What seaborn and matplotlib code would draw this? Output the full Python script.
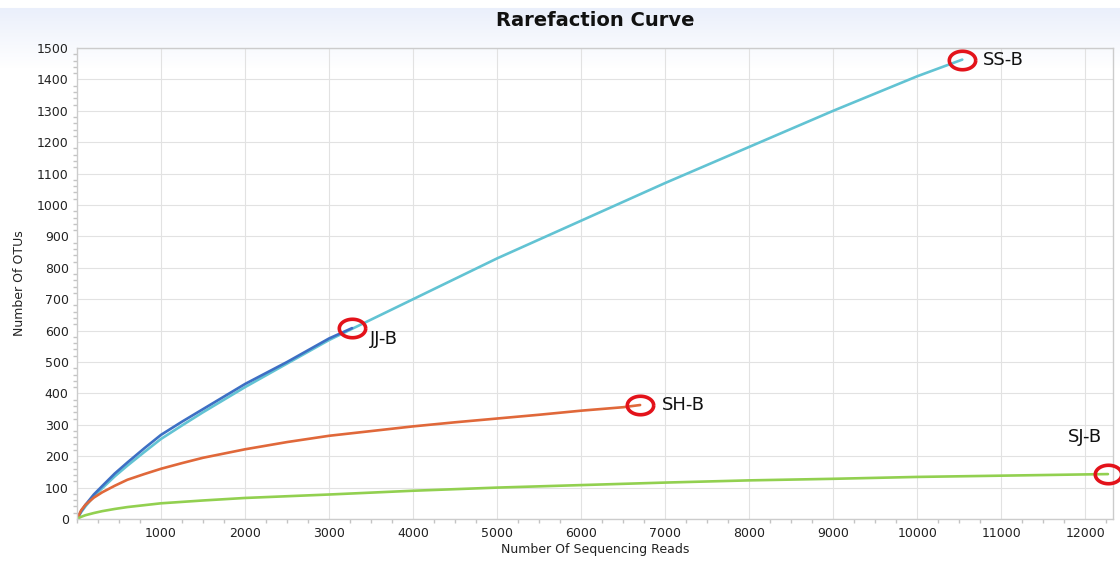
import numpy as np
import pandas as pd
import matplotlib
matplotlib.use("Agg")
import matplotlib.pyplot as plt
from matplotlib.path import Path
from matplotlib.ticker import MultipleLocator
import seaborn as sns

# ---- data ----
reads_ss = [0, 50, 100, 200, 300, 450, 600, 800, 1000, 1250, 1500, 2000, 2500, 3000, 3500, 4000, 5000, 6000, 7000, 8000, 9000, 10000, 10536]
otus_ss = [0, 22, 40, 72, 98, 136, 170, 213, 255, 298, 340, 420, 495, 570, 635, 700, 830, 950, 1070, 1185, 1300, 1410, 1463]

reads_jj = [0, 50, 100, 200, 300, 450, 600, 800, 1000, 1250, 1500, 2000, 2500, 3000, 3274]
otus_jj = [0, 25, 45, 78, 105, 145, 180, 225, 268, 310, 350, 430, 500, 575, 608]

reads_sh = [0, 50, 100, 200, 300, 450, 600, 800, 1000, 1250, 1500, 2000, 2500, 3000, 3500, 4000, 4500, 5000, 5500, 6000, 6500, 6702]
otus_sh = [0, 28, 45, 68, 85, 106, 125, 143, 160, 178, 195, 222, 245, 265, 280, 295, 308, 320, 332, 345, 356, 363]

reads_sj = [0, 50, 100, 200, 300, 450, 600, 800, 1000, 1500, 2000, 3000, 4000, 5000, 6000, 7000, 8000, 9000, 10000, 11000, 12000, 12270]
otus_sj = [0, 7, 12, 19, 25, 32, 38, 44, 50, 59, 67, 78, 90, 100, 108, 116, 123, 128, 134, 138, 142, 143]

series_names = ["SS-B", "JJ-B", "SH-B", "SJ-B"]
series_colors = ["#62C3D3", "#3D6FC4", "#E0683A", "#92D050"]

sns.set_theme(style="white")
plt.rcParams['font.family'] = ['DejaVu Sans']

fig = plt.figure(figsize=(11.2, 5.61), dpi=100)
fig.patch.set_facecolor("white")

# header gradient band
bg = fig.add_axes([0, 0, 1, 1], zorder=0)
grad = np.ones((561, 2, 3))
top, bot = 8, 68
for r in range(561):
    if top <= r < bot:
        t = (r - top) / (bot - top)
        c0 = np.array([0.92, 0.94, 0.985])
        grad[r, :, :] = c0 * (1 - t) + np.array([1, 1, 1]) * t
bg.imshow(grad, aspect="auto", extent=[0, 1, 0, 1])
bg.axis("off")

ax = fig.add_axes([77/1120, 1 - 519/561, (1113-77)/1120, (519-48)/561], zorder=1)
ax.set_facecolor("none")

frames = []
for name, xs, ys in [("SS-B", reads_ss, otus_ss), ("JJ-B", reads_jj, otus_jj),
                     ("SH-B", reads_sh, otus_sh), ("SJ-B", reads_sj, otus_sj)]:
    frames.append(pd.DataFrame({"reads": xs, "otus": ys, "sample": name}))
df = pd.concat(frames, ignore_index=True)

sns.lineplot(data=df, x="reads", y="otus", hue="sample", hue_order=series_names,
             palette=series_colors, linewidth=1.9, ax=ax, legend=False, sort=False,
             estimator=None)

ax.set_xlim(0, 12330)
ax.set_ylim(0, 1500)
ax.yaxis.set_major_locator(MultipleLocator(100))
ax.xaxis.set_minor_locator(MultipleLocator(250))
ax.yaxis.set_minor_locator(MultipleLocator(20))
ax.set_xticks([t for t in range(1000, 12001, 1000)])
ax.grid(True, which="major", color="#E2E2E2", linewidth=0.8)
ax.tick_params(axis="both", which="major", labelsize=9, length=0, pad=6, colors="#222222")
ax.tick_params(axis="both", which="minor", length=3, color="#C4C4C4", direction="out")
ax.tick_params(axis="x", which="minor", bottom=True)
ax.tick_params(axis="y", which="minor", left=True)
for s in ax.spines.values():
    s.set_color("#CCCCCC")
    s.set_linewidth(1.0)

ax.set_xlabel("Number Of Sequencing Reads", fontsize=9, labelpad=2, color="#222222")
ax.set_ylabel("Number Of OTUs", fontsize=9, labelpad=8, color="#222222")
fig.text(595/1120, 1 - 21/561, "Rarefaction Curve", ha="center", va="center",
         fontsize=14, fontweight="bold", color="#111111")

# red ellipse markers at endpoints
theta = np.linspace(0, 2 * np.pi, 60)
ell = Path(np.column_stack([np.cos(theta), 0.7 * np.sin(theta)]))
ends = [(reads_ss[-1], otus_ss[-1]), (reads_jj[-1], otus_jj[-1]),
        (reads_sh[-1], otus_sh[-1]), (reads_sj[-1], otus_sj[-1])]
for (ex, ey) in ends:
    ax.plot([ex], [ey], marker=ell, markersize=19, markerfacecolor="none",
            markeredgecolor="#E3121A", markeredgewidth=2.6, clip_on=False, zorder=5)

label_offsets = [(15, 0, "left", "center"), (13, -8, "left", "center"),
                 (16, 0, "left", "center"), (-4, 27, "right", "center")]
for name, (ex, ey), (dx, dy, ha, va) in zip(series_names, ends, label_offsets):
    ax.annotate(name, (ex, ey), xytext=(dx, dy), textcoords="offset points",
                ha=ha, va=va, fontsize=13, color="#111111", annotation_clip=False)

fig.savefig("out.png", dpi=100)
